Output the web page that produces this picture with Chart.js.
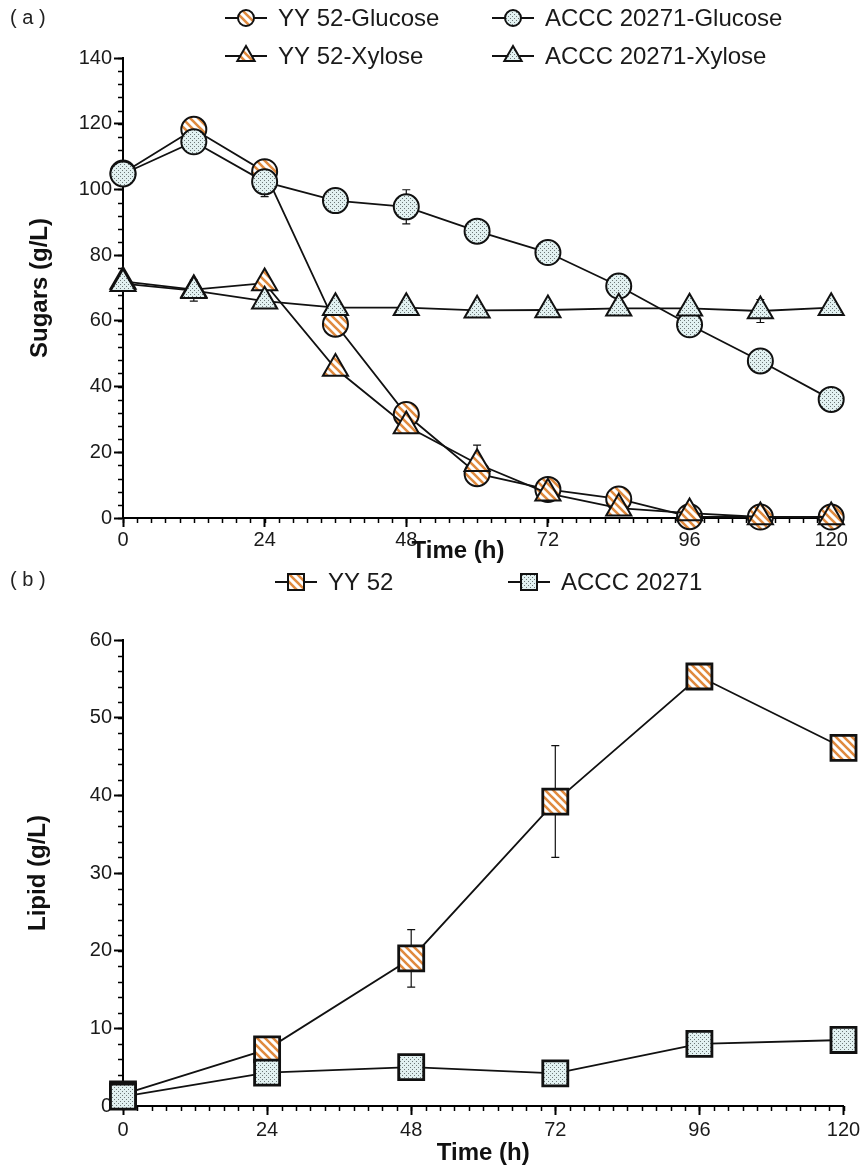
<!DOCTYPE html>
<html>
<head>
<meta charset="utf-8">
<script src="https://cdn.jsdelivr.net/npm/chart.js@4.4.1/dist/chart.umd.min.js"></script>
<style>
  html, body { margin: 0; padding: 0; background: #fff; }
  #wrap { position: relative; width: 864px; height: 1165px; }
  canvas { position: absolute; left: 0; }
  #chartA { top: 0; }
  #chartB { top: 565px; }
</style>
</head>
<body>
<div id="wrap">
  <canvas id="chartA" width="864" height="565" style="width:864px;height:565px"></canvas>
  <canvas id="chartB" width="864" height="600" style="width:864px;height:600px"></canvas>
</div>
<script>
// panel (a): sugars
const hoursA = [0, 12, 24, 36, 48, 60, 72, 84, 96, 108, 120]
const yyGlucose = [105, 118.3, 105.4, 59, 31.5, 13.5, 8.7, 5.8, 0.4, 0.3, 0.3]
const accGlucose = [104.7, 114.5, 102.3, 96.6, 94.7, 87.3, 80.8, 70.6, 58.8, 47.8, 36.1]
const yyXylose = [72, 69.5, 71.5, 45.5, 28, 16.5, 7.5, 3, 1.5, 0.3, 0.3]
const accXylose = [71.3, 69.2, 66, 64, 64, 63.2, 63.3, 63.8, 63.8, 63, 64]
const accGlucoseErr = [0, 0, 4.5, 0, 5.2, 0, 0, 0, 0, 0, 0]
const yyXyloseErr = [0, 0, 0, 0, 0, 5.7, 0, 0, 0, 0, 0]
const accXyloseErr = [0, 3.2, 0, 0, 0, 0, 0, 0, 0, 3.5, 0]

// panel (b): lipid
const hoursB = [0, 24, 48, 72, 96, 120]
const yyLipid = [1.5, 7.3, 19, 39.2, 55.3, 46.1]
const accLipid = [1.2, 4.3, 5, 4.2, 8, 8.5]
const yyLipidErr = [0, 0, 3.7, 7.2, 0, 0]

const timeTicks = [0, 24, 48, 72, 96, 120]
const sugarTicks = [0, 20, 40, 60, 80, 100, 120, 140]
const lipidTicks = [0, 10, 20, 30, 40, 50, 60]

const SANS = "'Liberation Sans', Arial, sans-serif"

function makeHatch() {
  const c = document.createElement("canvas")
  c.width = c.height = 8
  const g = c.getContext("2d")
  g.fillStyle = "#fff"
  g.fillRect(0, 0, 8, 8)
  g.strokeStyle = "#e08a3e"
  g.lineWidth = 2.6
  g.beginPath()
  g.moveTo(-2, -2); g.lineTo(10, 10)
  g.moveTo(-2, 6); g.lineTo(2, 10)
  g.moveTo(6, -2); g.lineTo(10, 2)
  g.stroke()
  return g.createPattern(c, "repeat")
}

function makeDots() {
  const c = document.createElement("canvas")
  c.width = c.height = 4
  const g = c.getContext("2d")
  g.fillStyle = "#e2f1f1"
  g.fillRect(0, 0, 4, 4)
  g.fillStyle = "#6e7878"
  g.fillRect(0, 0, 1, 1)
  g.fillRect(2, 2, 1, 1)
  return g.createPattern(c, "repeat")
}

const hatch = makeHatch()
const dots = makeDots()

const pts = (xs, ys) => xs.map((x, i) => ({ x, y: ys[i] }))

function series(label, xs, ys, style, fill, order, errors, radius, bw) {
  return {
    label,
    data: pts(xs, ys),
    errors,
    order,
    clip: false,
    borderColor: "#111",
    borderWidth: 1.8,
    tension: 0,
    pointStyle: style,
    pointRadius: radius,
    pointHoverRadius: radius,
    pointBorderColor: "#111",
    pointBorderWidth: bw,
    pointBackgroundColor: fill,
    backgroundColor: fill
  }
}

function drawMarker(ctx, style, fill, x, y, r) {
  ctx.beginPath()
  if (style === "circle") {
    ctx.arc(x, y, r, 0, Math.PI * 2)
  } else if (style === "triangle") {
    ctx.moveTo(x, y - r)
    ctx.lineTo(x + r * 0.866, y + r / 2)
    ctx.lineTo(x - r * 0.866, y + r / 2)
    ctx.closePath()
  } else {
    ctx.rect(x - r, y - r, 2 * r, 2 * r)
  }
  ctx.fillStyle = fill
  ctx.fill()
  ctx.stroke()
}

const errorBars = {
  id: "errorBars",
  beforeDatasetsDraw(chart) {
    const { ctx, scales: { x, y } } = chart
    ctx.save()
    ctx.strokeStyle = "#111"
    ctx.lineWidth = 1.2
    chart.data.datasets.forEach(ds => {
      if (!ds.errors) return
      ds.data.forEach((p, i) => {
        const e = ds.errors[i]
        if (!e) return
        const px = x.getPixelForValue(p.x)
        const top = y.getPixelForValue(p.y + e)
        const bot = y.getPixelForValue(p.y - e)
        ctx.beginPath()
        ctx.moveTo(px, top); ctx.lineTo(px, bot)
        ctx.moveTo(px - 4, top); ctx.lineTo(px + 4, top)
        ctx.moveTo(px - 4, bot); ctx.lineTo(px + 4, bot)
        ctx.stroke()
      })
    })
    ctx.restore()
  }
}

// minor ticks go under the markers, like the axis itself
const minorTicks = {
  id: "minorTicks",
  beforeDatasetsDraw(chart, args, opts) {
    const { ctx, scales: { x, y }, chartArea: a } = chart
    ctx.save()
    ctx.strokeStyle = "#000"
    ctx.lineWidth = 1.5
    ctx.beginPath()
    for (let v = 0; v <= 120.001; v += opts.xStep) {
      const px = Math.round(x.getPixelForValue(v)) + 0.5
      ctx.moveTo(px, a.bottom); ctx.lineTo(px, a.bottom + 5)
    }
    for (let v = 0; v <= y.max + 0.001; v += opts.yStep) {
      const py = Math.round(y.getPixelForValue(v)) + 0.5
      ctx.moveTo(a.left, py); ctx.lineTo(a.left - 5, py)
    }
    ctx.stroke()
    ctx.restore()
  }
}

const legendBox = {
  id: "legendBox",
  afterDraw(chart, args, opts) {
    const ctx = chart.ctx
    ctx.save()
    ctx.fillStyle = "#222"
    ctx.font = "20px " + SANS
    ctx.textBaseline = "middle"
    ctx.fillText(opts.tag, 10, opts.tagY)
    opts.items.forEach(it => {
      ctx.strokeStyle = "#111"
      ctx.lineWidth = 2
      ctx.beginPath()
      ctx.moveTo(it.x - 21, it.y); ctx.lineTo(it.x + 21, it.y)
      ctx.stroke()
      drawMarker(ctx, it.style, it.fill, it.x, it.y, it.r)
      ctx.fillStyle = "#1a1a1a"
      ctx.font = "24px " + SANS
      ctx.textBaseline = "middle"
      ctx.fillText(it.label, it.x + 32, it.y + 1)
    })
    if (opts.xTitle) {
      ctx.font = "bold 24px " + SANS
      ctx.textAlign = "center"
      ctx.fillStyle = "#111"
      ctx.fillText(opts.xTitle, chart.chartArea.left + 335, opts.xTitleY)
    }
    ctx.restore()
  }
}

function axes(o) {
  const tickFont = { family: SANS, size: 20 }
  return {
    x: {
      type: "linear",
      min: 0,
      max: o.xMax,
      afterBuildTicks: s => { s.ticks = timeTicks.map(v => ({ value: v })) },
      afterFit: s => { s.height = o.xHeight },
      border: { display: true, color: "#000", width: 2 },
      grid: { drawOnChartArea: false, drawTicks: true, tickLength: 9, tickWidth: 2, tickColor: "#000" },
      ticks: { font: tickFont, color: "#1a1a1a", padding: o.xPad, maxRotation: 0, autoSkip: false },
      title: o.xTitle
        ? { display: true, text: o.xTitle, color: "#111", font: { family: SANS, size: 24, weight: "bold", lineHeight: 1 }, padding: { top: 0, bottom: 0 } }
        : { display: false }
    },
    y: {
      type: "linear",
      min: 0,
      max: o.yMax,
      afterBuildTicks: s => { s.ticks = o.yTicks.map(v => ({ value: v })) },
      afterFit: s => { s.width = 123 },
      border: { display: true, color: "#000", width: 2 },
      grid: { drawOnChartArea: false, drawTicks: true, tickLength: 9, tickWidth: 2, tickColor: "#000" },
      ticks: { font: tickFont, color: "#1a1a1a", padding: 2 },
      title: { display: true, text: o.yTitle, color: "#111", font: { family: SANS, size: 24, weight: "bold", lineHeight: 1 }, padding: { top: o.yTitlePad, bottom: 0 } }
    }
  }
}

const common = {
  responsive: false,
  animation: false,
  events: [],
  plugins: { legend: { display: false }, tooltip: { enabled: false } }
}

new Chart(document.getElementById("chartA"), {
  type: "line",
  data: {
    datasets: [
      series("YY 52-Glucose", hoursA, yyGlucose, "circle", hatch, 4, null, 12.5, 2),
      series("ACCC 20271-Glucose", hoursA, accGlucose, "circle", dots, 3, accGlucoseErr, 12.5, 2),
      series("YY 52-Xylose", hoursA, yyXylose, "triangle", hatch, 2, yyXyloseErr, 14.5, 2),
      series("ACCC 20271-Xylose", hoursA, accXylose, "triangle", dots, 1, accXyloseErr, 14.5, 2)
    ]
  },
  options: {
    ...common,
    layout: { padding: { top: 58, right: 21, left: 0, bottom: 0 } },
    scales: axes({ xMax: 122, xHeight: 47, xPad: 1, yMax: 140, yTicks: sugarTicks, yTitle: "Sugars (g/L)", yTitlePad: 28 }),
    plugins: {
      ...common.plugins,
      minorTicks: { xStep: 2.4, yStep: 4 },
      legendBox: {
        tag: "( a )", tagY: 18, xTitle: "Time (h)", xTitleY: 551,
        items: [
          { x: 246, y: 18, style: "circle", fill: hatch, r: 8, label: "YY 52-Glucose" },
          { x: 513, y: 18, style: "circle", fill: dots, r: 8, label: "ACCC 20271-Glucose" },
          { x: 246, y: 56, style: "triangle", fill: hatch, r: 10, label: "YY 52-Xylose" },
          { x: 513, y: 56, style: "triangle", fill: dots, r: 10, label: "ACCC 20271-Xylose" }
        ]
      }
    }
  },
  plugins: [errorBars, minorTicks, legendBox]
})

new Chart(document.getElementById("chartB"), {
  type: "line",
  data: {
    datasets: [
      series("YY 52", hoursB, yyLipid, "rect", hatch, 2, yyLipidErr, 17.7, 2.8),
      series("ACCC 20271", hoursB, accLipid, "rect", dots, 1, null, 17.7, 2.8)
    ]
  },
  options: {
    ...common,
    layout: { padding: { top: 75, right: 19, left: 0, bottom: 0 } },
    scales: axes({ xMax: 120, xHeight: 59, xPad: 3, xTitle: "Time (h)", yMax: 60, yTicks: lipidTicks, yTitle: "Lipid (g/L)", yTitlePad: 26 }),
    plugins: {
      ...common.plugins,
      minorTicks: { xStep: 2.4, yStep: 2 },
      legendBox: {
        tag: "( b )", tagY: 15,
        items: [
          { x: 296, y: 17, style: "rect", fill: hatch, r: 8, label: "YY 52" },
          { x: 529, y: 17, style: "rect", fill: dots, r: 8, label: "ACCC 20271" }
        ]
      }
    }
  },
  plugins: [errorBars, minorTicks, legendBox]
})
</script>
</body>
</html>
